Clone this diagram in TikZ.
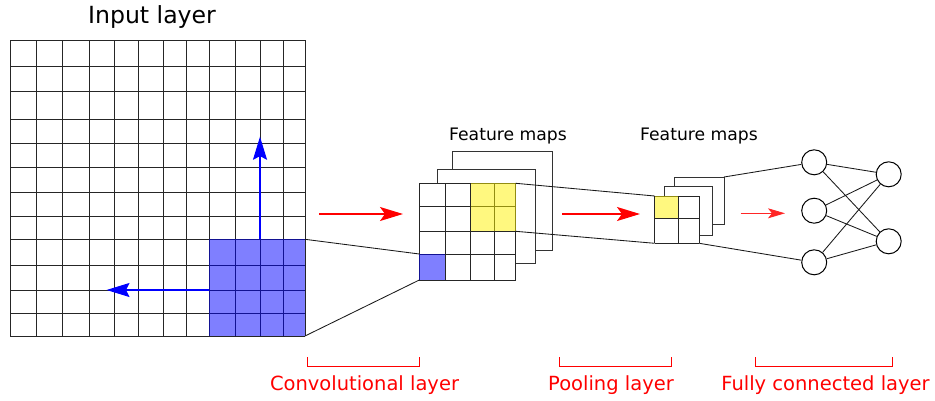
\documentclass[tikz,border=0pt]{standalone}
\usepackage{fontspec}
\setmainfont{DejaVu Sans}
\usetikzlibrary{arrows.meta}
\begin{document}
\begin{tikzpicture}[x=1pt,y=-1pt,
  gridline/.style={draw=black!85, line width=1pt},
  mapline/.style={draw=black!80, line width=1pt, fill=white},
  conn/.style={draw=black!90, line width=0.85pt},
  bluearrow/.style={draw=blue, line width=1.4pt, -{Stealth[length=23pt,width=14pt,inset=3.5pt]}},
  redarrow/.style={draw=red, line width=1.4pt, -{Stealth[length=23pt,width=14pt,inset=5pt]}},
  redarrowthin/.style={draw=red!85, line width=0.9pt, -{Stealth[length=17pt,width=10pt,inset=4pt]}},
  neuron/.style={circle, draw=black, line width=1pt, minimum size=25pt, inner sep=0pt},
  bracket/.style={draw=red, line width=0.9pt},
  lyrtext/.style={text=red, font=\fontsize{19.5}{23}\selectfont, anchor=base, inner sep=0pt},
  titletext/.style={text=black, anchor=base, inner sep=0pt}]
\useasboundingbox (0,0) rectangle (935,400);

% ---------- Input layer ----------
\node[titletext, font=\fontsize{23.6}{28}\selectfont] (inputtitle) at (152,23.5) {Input layer};
\foreach \x in {10,36.7,62.3,89.3,114,138.3,163.3,186.7,209.3,235.7,260,283.3,305}
  \draw[gridline] (\x,40) -- (\x,336);
\foreach \y in {40,66,91,119,143.3,167.7,192.7,216.7,239.3,265,290,313.3,336}
  \draw[gridline] (10,\y) -- (305,\y);
\fill[blue, opacity=0.5] (209.3,239.3) rectangle (305,336);
\coordinate (kTR) at (305,239.3);
\coordinate (kBR) at (305,336);
\coordinate (vstart) at (260,239.3);
\coordinate (vend) at (260,136.7);
\coordinate (hstart) at (209.3,290);
\coordinate (hend) at (106.5,290);
\draw[bluearrow] (vstart) -- (vend);
\draw[bluearrow] (hstart) -- (hend);

% ---------- Convolutional feature maps ----------
\node[titletext, font=\fontsize{17.2}{20}\selectfont] (fm1) at (508,140) {Feature maps};
\filldraw[mapline] (452.7,151) rectangle (552,250.7);
\filldraw[mapline] (437.3,169) rectangle (535.7,263.3);
\fill[white] (419.3,183.3) rectangle (515.7,280);
\foreach \x in {419.3,445,470.7,494,515.7}
  \draw[gridline] (\x,183.3) -- (\x,280);
\foreach \y in {183.3,206,231.3,254,280}
  \draw[gridline] (419.3,\y) -- (515.7,\y);
\fill[yellow, opacity=0.5] (470.7,183.3) rectangle (515.7,231.3);
\fill[blue, opacity=0.5] (419.3,254) rectangle (445,280);
\coordinate (cBlueTL) at (419.3,254);
\coordinate (cBlueBL) at (419.3,280);
\coordinate (cYelTR) at (515.7,183.3);
\coordinate (cYelBR) at (515.7,231.3);
\draw[conn] (kTR) -- (cBlueTL);
\draw[conn] (kBR) -- (cBlueBL);

% ---------- Pooling feature maps ----------
\node[titletext, font=\fontsize{17.2}{20}\selectfont] (fm2) at (699,140) {Feature maps};
\filldraw[mapline] (674.3,177) rectangle (724,224.3);
\filldraw[mapline] (664.3,186) rectangle (712.3,235.3);
\fill[white] (654.7,196) rectangle (699.3,243.3);
\foreach \x in {654.7,678.3,699.3}
  \draw[gridline] (\x,196) -- (\x,243.3);
\foreach \y in {196,218.3,243.3}
  \draw[gridline] (654.7,\y) -- (699.3,\y);
\fill[yellow, opacity=0.5] (654.7,196) rectangle (678.3,218.3);
\coordinate (pTL) at (654.7,196);
\coordinate (pBL) at (654.7,243.3);
\coordinate (pBR) at (699.3,243.3);
\coordinate (pBackTR) at (724,177);
\draw[conn] (cYelTR) -- (pTL);
\draw[conn] (cYelBR) -- (pBL);

% ---------- Fully connected ----------
\node[neuron] (n1) at (814.2,162.3) {};
\node[neuron] (n2) at (814.2,210.7) {};
\node[neuron] (n3) at (814.2,262.3) {};
\node[neuron] (o1) at (888.7,174.3) {};
\node[neuron] (o2) at (888.7,241.3) {};
\draw[conn] (pBackTR) -- (n1);
\draw[conn] (pBR) -- (n3);
\foreach \a in {n1,n2,n3}
  \foreach \b in {o1,o2}
    \draw[conn] (\a) -- (\b);

% ---------- Red arrows ----------
\coordinate (ra1s) at (319,214);
\coordinate (ra1e) at (403,214);
\coordinate (ra2s) at (562,214);
\coordinate (ra2e) at (640,214);
\coordinate (ra3s) at (740.7,213.3);
\coordinate (ra3e) at (785,213.3);
\draw[redarrow] (ra1s) -- (ra1e);
\draw[redarrow] (ra2s) -- (ra2e);
\draw[redarrowthin] (ra3s) -- (ra3e);

% ---------- Brackets and labels ----------
\draw[bracket] (307.3,357.3) -- (307.3,366.3) -- (419,366.3) -- (419,357.3);
\draw[bracket] (559.3,357.3) -- (559.3,366.3) -- (671.7,366.3) -- (671.7,357.3);
\draw[bracket] (755,357.3) -- (755,366.3) -- (892.7,366.3) -- (892.7,357.3);
\node[lyrtext] (convlbl) at (364.5,390.7) {Convolutional layer};
\node[lyrtext] (poollbl) at (611,390.7) {Pooling layer};
\node[lyrtext] (fclbl) at (825.5,390.7) {Fully connected layer};
\end{tikzpicture}
\end{document}
